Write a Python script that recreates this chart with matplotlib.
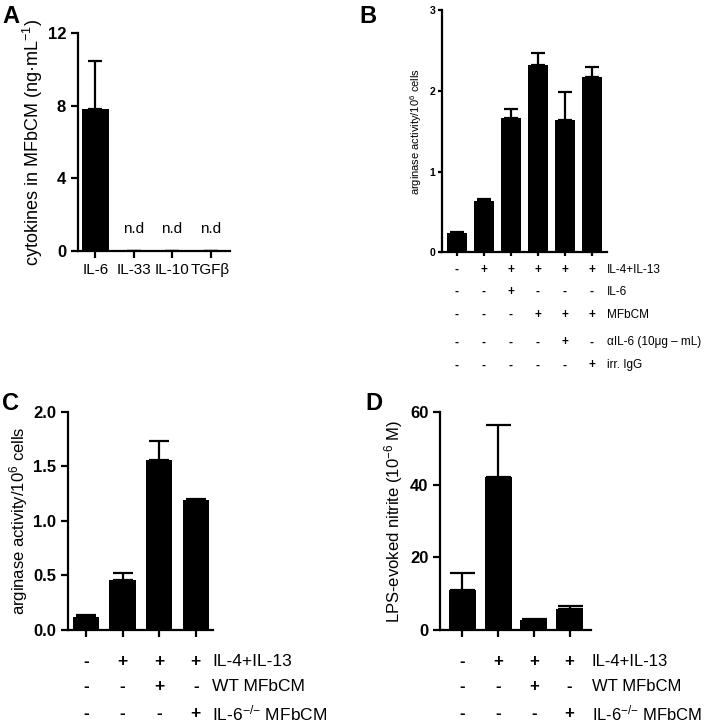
import matplotlib
matplotlib.use("Agg")
import matplotlib.pyplot as plt
import numpy as np

plt.rcParams['font.family'] = ['Liberation Sans', 'DejaVu Sans']
plt.rcParams['mathtext.default'] = 'regular'

# panel A - cytokines in conditioned medium
a_names = ['IL-6', 'IL-33', 'IL-10', 'TGFβ']
a_vals = [7.8, 0, 0, 0]
a_err = [2.7, 0, 0, 0]
a_nd = ['', 'n.d', 'n.d', 'n.d']

# panel B - arginase activity, 6 conditions
b_vals = [0.24, 0.63, 1.66, 2.32, 1.64, 2.17]
b_err = [0.01, 0.03, 0.12, 0.15, 0.35, 0.12]
b_rows = ['IL-4+IL-13', 'IL-6', 'MFbCM', 'αIL-6 (10μg – mL)', 'irr. IgG']
b_table = [['-', '+', '+', '+', '+', '+'],
           ['-', '-', '+', '-', '-', '-'],
           ['-', '-', '-', '+', '+', '+'],
           ['-', '-', '-', '-', '+', '-'],
           ['-', '-', '-', '-', '-', '+']]

# panel C - arginase activity with WT / IL-6 KO medium
c_vals = [0.12, 0.46, 1.56, 1.19]
c_err = [0.02, 0.06, 0.17, 0.01]

# panel D - nitrite
d_vals = [11.0, 42.0, 2.7, 5.7]
d_err = [4.8, 14.5, 0.3, 0.9]

cd_rows = ['IL-4+IL-13', 'WT MFbCM', 'IL-6$^{{-}/{-}}$ MFbCM']
cd_table = [['-', '+', '+', '+'],
            ['-', '-', '+', '-'],
            ['-', '-', '-', '+']]


def style_ax(ax, lw=1.6, tl=5):
	ax.spines['top'].set_visible(False)
	ax.spines['right'].set_visible(False)
	ax.spines['left'].set_linewidth(lw)
	ax.spines['bottom'].set_linewidth(lw)
	ax.tick_params(width=lw, length=tl, direction='out')


def bars(ax, vals, err, width, capsize):
	x = np.arange(len(vals))
	ax.bar(x, vals, width=width, color='black', zorder=2)
	ax.errorbar(x, vals, yerr=[np.zeros(len(err)), err], fmt='none',
				ecolor='black', elinewidth=1.6, capsize=capsize, capthick=1.6, zorder=1)
	return x


def table(ax, table_rows, names, ys, xlab, fs):
	for r, row in enumerate(table_rows):
		for i, s in enumerate(row):
			ax.text(i, ys[r], s, transform=ax.get_xaxis_transform(), ha='center',
					va='center', fontsize=fs, fontweight='bold', clip_on=False)
		ax.text(xlab, ys[r], names[r], transform=ax.get_xaxis_transform(), ha='left',
				va='center', fontsize=fs, clip_on=False)


fig = plt.figure(figsize=(7.09, 7.25), dpi=100)

# A
axA = fig.add_axes([0.110, 0.654, 0.214, 0.300])
x = bars(axA, a_vals, a_err, 0.7, 4.7)
axA.set_xlim(-0.45, 3.5)
axA.set_ylim(0, 12)
axA.set_yticks([0, 4, 8, 12])
axA.set_xticks(x)
axA.set_xticklabels(a_names, fontsize=11)
for t in axA.get_yticklabels():
	t.set_fontsize(12)
	t.set_fontweight('bold')
for i, s in enumerate(a_nd):
	axA.text(i, 0.8, s, ha='center', va='bottom', fontsize=11)
axA.set_ylabel('cytokines in MFbCM (ng·mL$^{-1}$)', fontsize=13, labelpad=2)
style_ax(axA)

# B
axB = fig.add_axes([0.623, 0.652, 0.233, 0.334])
x = bars(axB, b_vals, b_err, 0.74, 5)
axB.set_xlim(-0.56, 5.56)
axB.set_ylim(0, 3)
axB.set_yticks([0, 1, 2, 3])
axB.set_xticks(x)
axB.set_xticklabels([])
for t in axB.get_yticklabels():
	t.set_fontsize(7.5)
	t.set_fontweight('bold')
axB.set_ylabel('arginase activity/10$^6$ cells', fontsize=8, labelpad=4)
style_ax(axB, tl=3)
axB.tick_params(axis='y', pad=1.5)
table(axB, b_table, b_rows, [-0.074, -0.165, -0.26, -0.372, -0.467], 5.56, 8.5)

# C
axC = fig.add_axes([0.096, 0.131, 0.204, 0.301])
x = bars(axC, c_vals, c_err, 0.72, 7)
axC.set_xlim(-0.49, 3.46)
axC.set_ylim(0, 2.0)
axC.set_yticks([0, 0.5, 1.0, 1.5, 2.0])
axC.set_yticklabels(['0.0', '0.5', '1.0', '1.5', '2.0'])
axC.set_xticks(x)
axC.set_xticklabels([])
for t in axC.get_yticklabels():
	t.set_fontsize(12)
	t.set_fontweight('bold')
axC.set_ylabel('arginase activity/10$^6$ cells', fontsize=12, labelpad=2)
style_ax(axC)
table(axC, cd_table, cd_rows, [-0.142, -0.261, -0.381], 3.44, 12.5)

# D
axD = fig.add_axes([0.621, 0.131, 0.212, 0.301])
x = bars(axD, d_vals, d_err, 0.75, 9)
axD.set_xlim(-0.62, 3.59)
axD.set_ylim(0, 60)
axD.set_yticks([0, 20, 40, 60])
axD.set_xticks(x)
axD.set_xticklabels([])
for t in axD.get_yticklabels():
	t.set_fontsize(12)
	t.set_fontweight('bold')
axD.set_ylabel('LPS-evoked nitrite (10$^{-6}$ M)', fontsize=12, labelpad=4)
style_ax(axD)
table(axD, cd_table, cd_rows, [-0.142, -0.261, -0.381], 3.62, 12)

# panel letters
fig.text(0.003, 0.993, 'A', fontsize=17, fontweight='bold', va='top')
fig.text(0.507, 0.993, 'B', fontsize=17, fontweight='bold', va='top')
fig.text(0.003, 0.460, 'C', fontsize=17, fontweight='bold', va='top')
fig.text(0.515, 0.460, 'D', fontsize=17, fontweight='bold', va='top')

fig.savefig('out.png', dpi=100)
